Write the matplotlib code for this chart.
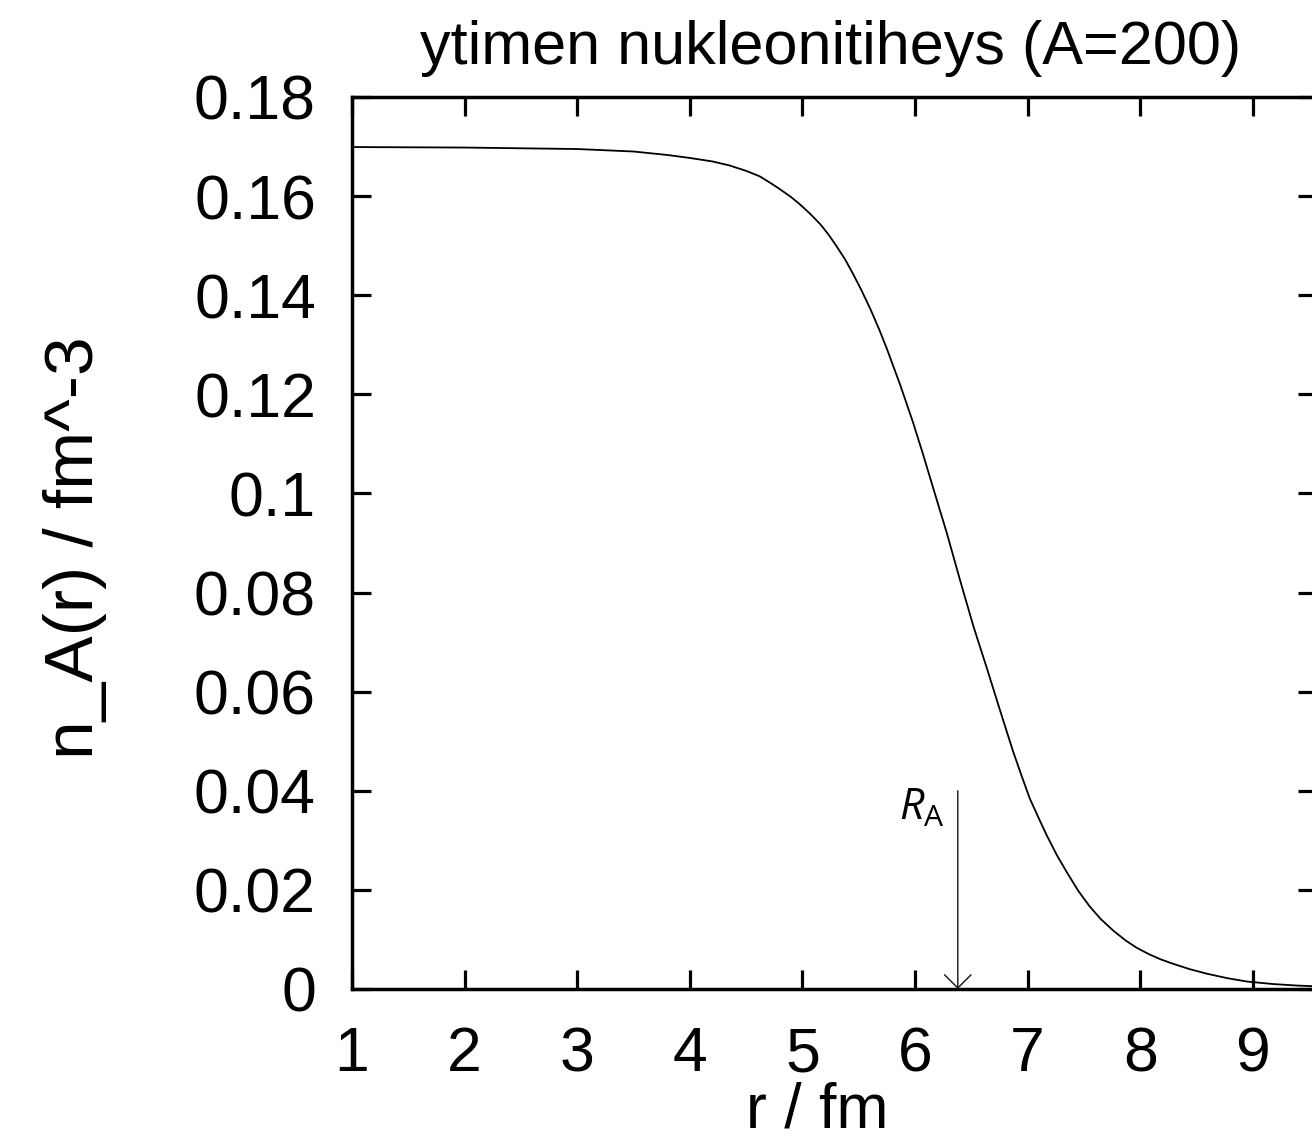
import matplotlib
matplotlib.use("Agg")
import matplotlib.pyplot as plt

# Data
r_fm = [1.0, 2.0, 3.0, 3.5, 3.8, 4.0, 4.2, 4.35, 4.5, 4.62, 4.72, 4.80, 4.90, 4.98,
        5.07, 5.16, 5.23, 5.30, 5.38, 5.45, 5.52, 5.60, 5.68, 5.75, 5.87, 5.98,
        6.07, 6.16, 6.28, 6.40, 6.52, 6.64, 6.75, 6.87, 6.95, 7.02, 7.10, 7.17,
        7.26, 7.35, 7.45, 7.55, 7.65, 7.76, 7.87, 7.97, 8.08, 8.18, 8.29, 8.44,
        8.59, 8.77, 8.95, 9.18, 9.39, 9.60]
density = [0.1699, 0.1698, 0.1695, 0.1690, 0.1683, 0.1677, 0.1670, 0.1662, 0.1651,
           0.1640, 0.1626, 0.1614, 0.1598, 0.1583, 0.1564, 0.1543, 0.1523, 0.1500,
           0.1472, 0.1443, 0.1412, 0.1374, 0.1332, 0.1292, 0.1218, 0.1145, 0.1080,
           0.1012, 0.0922, 0.0825, 0.0731, 0.0646, 0.0566, 0.0480, 0.0428, 0.0384,
           0.0344, 0.0310, 0.0270, 0.0235, 0.0198, 0.0167, 0.0141, 0.0118, 0.0098,
           0.0083, 0.0070, 0.0060, 0.0051, 0.0040, 0.0031, 0.0022, 0.0015, 0.0010,
           0.0007, 0.0005]
x_ticks = [1, 2, 3, 4, 5, 6, 7, 8, 9]
y_ticks = [0, 0.02, 0.04, 0.06, 0.08, 0.1, 0.12, 0.14, 0.16, 0.18]
y_tick_labels = ["0", "0.02", "0.04", "0.06", "0.08", "0.1", "0.12", "0.14", "0.16", "0.18"]
R_A = 6.38
arrow_top = 0.04

plt.rcParams['font.family'] = ['Liberation Sans', 'DejaVu Sans']
plt.rcParams['mathtext.fontset'] = 'custom'
plt.rcParams['mathtext.it'] = 'Open Sans:italic'
plt.rcParams['mathtext.rm'] = 'Open Sans'

W, H = 1312, 1142
fig = plt.figure(figsize=(W / 100, H / 100), dpi=100)
left, right, top, bottom = 352, 1317, 97, 989
ax = fig.add_axes([left / W, (H - bottom) / H, (right - left) / W, (bottom - top) / H])

ax.plot(r_fm, density, color='black', lw=1.3)
ax.set_xlim(1, 9.57)
ax.set_ylim(0, 0.18)
ax.set_xticks(x_ticks)
ax.set_xticklabels([str(t) for t in x_ticks])
ax.set_yticks(y_ticks)
ax.set_yticklabels(y_tick_labels)
ax.tick_params(direction='in', length=13.5, width=2.3, labelsize=45, pad=26,
               top=True, right=True, color='black')
for s in ax.spines.values():
    s.set_linewidth(2.5)

ax.annotate('', xy=(R_A, 0), xytext=(R_A, arrow_top),
            arrowprops=dict(arrowstyle='->,head_length=0.95,head_width=0.95',
                            color='#111111', lw=1.0, shrinkA=0, shrinkB=0,
                            mutation_scale=10))
fig.text(945 / W, (H - 820) / H, r'$R_{\mathrm{A}}$', fontsize=31,
         ha='right', va='baseline')

fig.text(831 / W, (H - 64) / H, 'ytimen nukleonitiheys (A=200)', fontsize=44,
         ha='center', va='baseline')
fig.text(817 / W, (H - 1128) / H, 'r / fm', fontsize=45, ha='center', va='baseline')
fig.text(75 / W, (H - 548) / H, 'n_A(r) / fm^-3', fontsize=50, ha='center',
         va='center', rotation=90)

fig.savefig('out.png', dpi=100)
